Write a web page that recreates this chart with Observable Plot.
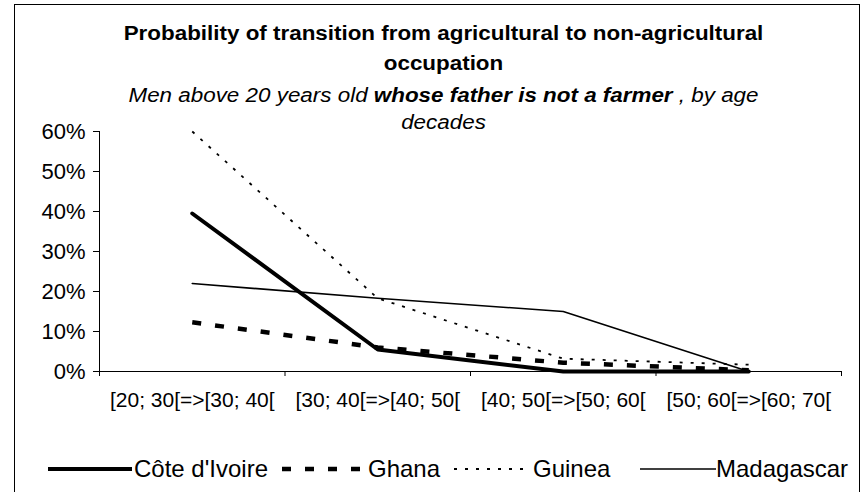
<!DOCTYPE html>
<html><head><meta charset="utf-8">
<script src="https://cdn.jsdelivr.net/npm/d3@7"></script>
<script src="https://cdn.jsdelivr.net/npm/@observablehq/plot@0.6"></script>
<style>
html,body{margin:0;padding:0;background:#fff;}
body{width:864px;height:492px;position:relative;overflow:hidden;font-family:"Liberation Sans",Arial,sans-serif;color:#000;}
#frame{position:absolute;left:14px;top:4px;width:846px;height:600px;border:1.5px solid #000;box-sizing:border-box;}
#chart{position:absolute;left:0;top:0;}
.tline{position:absolute;left:0;width:887px;text-align:center;white-space:nowrap;font-size:20px;line-height:20px;transform:scaleX(1.12);transform-origin:443.5px 50%;}
.t1{font-weight:bold;}
.sub{font-style:italic;}
.legtext{position:absolute;font-size:24px;line-height:24px;white-space:nowrap;top:457px;}
.legsample{position:absolute;top:463px;}
</style></head>
<body>
<div id="frame"></div>
<div id="chart"></div>
<div class="tline t1" style="top:23px">Probability of transition from agricultural to non-agricultural</div>
<div class="tline t1" style="top:53px">occupation</div>
<div class="tline sub" style="top:85px">Men above 20 years old <b>whose father is not a farmer</b> , by age</div>
<div class="tline sub" style="top:112px">decades</div>
<div id="legend"></div>
<script>
const categories = ["[20; 30[=>[30; 40[", "[30; 40[=>[40; 50[", "[40; 50[=>[50; 60[", "[50; 60[=>[60; 70["];
const seriesNames = ["Côte d'Ivoire", "Ghana", "Guinea", "Madagascar"];
const coteDIvoire = [39.5, 5.5, 0, 0];
const ghana = [12.3, 6.0, 2.2, 0.3];
const guinea = [60, 18.3, 3.2, 1.7];
const madagascar = [22, 18.3, 15, 0];
const yTicks = [0, 10, 20, 30, 40, 50, 60];

const seriesValues = [coteDIvoire, ghana, guinea, madagascar];
const styles = {
  "Côte d'Ivoire": {w: 4, dash: null, cap: "round"},
  "Ghana": {w: 4.5, dash: "9,14", cap: "butt"},
  "Guinea": {w: 1.8, dash: "3,8", cap: "butt"},
  "Madagascar": {w: 1.6, dash: null, cap: "round"}
};
const table = seriesNames.flatMap((s, si) => categories.map((c, i) => ({series: s, pos: i + 0.5, value: seriesValues[si][i]})));

const font = '"Liberation Sans", Arial, sans-serif';
const plot = Plot.plot({
  width: 864, height: 430,
  marginLeft: 99, marginRight: 23, marginTop: 131, marginBottom: 59,
  style: {fontFamily: font, fontSize: "21px", color: "#000", background: "transparent", overflow: "visible"},
  x: {domain: [0, categories.length], axis: null},
  y: {domain: [0, 60], axis: null},
  marks: [
    Plot.axisY(yTicks, {tickSize: 6, tickPadding: 8, tickFormat: d => d + "%", label: null, fontSize: 22, stroke: "#000", strokeOpacity: 1}),
    Plot.axisX(d3.range(categories.length + 1), {tickSize: 5, tickFormat: () => "", label: null, stroke: "#000", strokeOpacity: 1}),
    Plot.axisX(categories.map((c, i) => i + 0.5), {tickSize: 0, tickPadding: 21, tickFormat: d => categories[Math.round(d - 0.5)], label: null, fontSize: 21}),
    Plot.ruleY([0], {stroke: "#000"}),
    Plot.ruleX([0], {stroke: "#000"}),
    ...seriesNames.map(s => Plot.line(table.filter(d => d.series === s), {
      x: "pos", y: "value", stroke: "#000",
      strokeWidth: styles[s].w,
      strokeDasharray: styles[s].dash,
      strokeLinecap: styles[s].cap,
      strokeLinejoin: "round"
    }))
  ]
});
document.getElementById("chart").appendChild(plot);

// legend
const legendLayout = [
  {s0: 48, s1: 132, t: 134},
  {s0: 282, s1: 368, t: 368},
  {s0: 454, s1: 528, t: 533},
  {s0: 640, s1: 716, t: 716}
];
const leg = d3.select("#legend");
seriesNames.forEach((s, i) => {
  const L = legendLayout[i], st = styles[s];
  const svg = leg.append("svg").attr("class", "legsample")
    .style("left", L.s0 + "px").attr("width", L.s1 - L.s0).attr("height", 12);
  svg.append("line").attr("x1", 0).attr("x2", L.s1 - L.s0).attr("y1", 6).attr("y2", 6)
    .attr("stroke", "#000").attr("stroke-width", st.w)
    .attr("stroke-dasharray", st.dash).attr("stroke-linecap", "butt");
  leg.append("div").attr("class", "legtext").style("left", L.t + "px").text(s);
});
</script>
</body></html>
